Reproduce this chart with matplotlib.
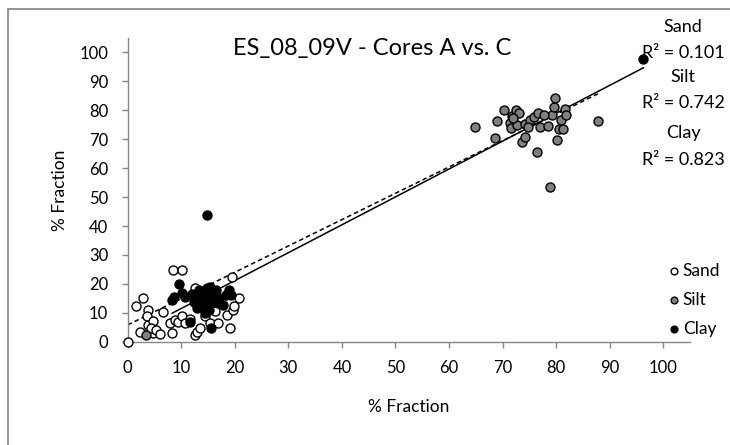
import matplotlib.pyplot as plt
from matplotlib.patches import Rectangle

plt.rcParams['font.family'] = ['Lato', 'DejaVu Sans']

# values
sand_x = [0, 1.5, 2.9, 3.8, 3.6, 3.8, 2.3, 4.8, 4.8, 4.3, 5.2, 6.0, 6.6, 7.9, 8.2,
          8.4, 10.1, 8.8, 9.4, 10.1, 10.7, 11.6, 12.6, 12.6, 13.0, 13.5, 14.4,
          15.4, 16.3, 16.9, 18.5, 19.1, 19.4, 19.7, 19.9, 20.7]
sand_y = [0, 12.2, 15.1, 11.0, 8.8, 5.8, 3.3, 2.9, 7.2, 4.6, 4.2, 2.6, 10.4, 6.4, 2.9,
          24.9, 24.8, 7.5, 6.9, 9.0, 6.4, 8.0, 18.5, 2.4, 3.2, 4.6, 8.9,
          6.6, 10.5, 6.5, 9.2, 4.9, 22.5, 10.8, 12.2, 15.0]

silt_x = [3.4, 64.9, 68.6, 69.0, 70.3, 71.3, 71.6, 71.7, 72.6, 73.1, 73.6, 74.2,
          72.7, 74.2, 75.1, 75.9, 76.7, 77.0, 76.4, 78.4, 78.8, 79.3, 79.6, 79.8,
          80.2, 80.6, 81.0, 81.3, 81.6, 81.9, 87.9, 77.8, 72.0, 74.8]
silt_y = [2.3, 74.3, 70.3, 76.3, 80.1, 75.7, 73.8, 78.0, 80.1, 78.9, 69.2, 70.7,
          74.9, 75.4, 76.8, 77.7, 78.9, 74.3, 65.6, 74.6, 53.4, 78.4, 81.1, 84.4,
          69.9, 73.7, 76.6, 73.7, 80.4, 78.4, 76.3, 78.4, 77.5, 74.4]

clay_x = [9.5, 8.6, 8.3, 10.1, 10.7, 11.6, 12.3, 13.3, 13.5, 14.2, 14.8, 15.0, 15.3,
          15.6, 14.4, 15.6, 16.2, 16.5, 17.1, 17.8, 18.4, 19.0, 19.3, 14.75, 96.3,
          12.0, 14.0, 16.8, 13.0, 15.2]
clay_y = [19.8, 15.6, 14.4, 16.9, 15.6, 6.9, 13.8, 17.9, 15.6, 12.7, 18.5, 16.1, 19.0,
          13.8, 9.8, 4.6, 15.6, 17.9, 15.0, 12.7, 16.1, 17.9, 16.1, 43.8, 97.8,
          16.5, 14.5, 13.5, 11.5, 11.0]

# trendline end points
silt_fit_x = [0, 87.9]
silt_fit_y = [5.8, 85.8]
clay_fit_x = [8.3, 96.3]
clay_fit_y = [9.85, 94.7]

r2_labels = ["Sand", "R² = 0.101", "Silt", "R² = 0.742", "Clay", "R² = 0.823"]

fig = plt.figure(figsize=(7.3, 4.45), dpi=100)
ax = fig.add_axes([127.7 / 730, 1 - 341.7 / 445, (690 - 127.7) / 730, (341.7 - 38) / 445])

mk = dict(s=42, edgecolors='black', linewidths=1.0, zorder=3, clip_on=False)
ax.scatter(sand_x, sand_y, facecolors='white', label='Sand', **mk)
ax.scatter(silt_x, silt_y, facecolors='#808080', label='Silt', **mk)
ax.scatter(clay_x, clay_y, facecolors='black', label='Clay', **mk)

ax.plot(silt_fit_x, silt_fit_y, color='black', lw=1.1, ls=(0, (3, 2)), zorder=2)
ax.plot(clay_fit_x, clay_fit_y, color='black', lw=1.1, zorder=2)

ax.set_xlim(0, 105)
ax.set_ylim(0, 105)
ax.set_xticks(range(0, 101, 10))
ax.set_yticks(range(0, 101, 10))
for s in ['top', 'right']:
    ax.spines[s].set_visible(False)
for s in ['bottom', 'left']:
    ax.spines[s].set_color('#868686')
    ax.spines[s].set_linewidth(1.0)
ax.tick_params(axis='both', colors='#868686', labelcolor='black', length=4,
               width=1.0, labelsize=12)
ax.tick_params(axis='x', pad=9)
ax.tick_params(axis='y', pad=10)
ax.set_xlabel('% Fraction', fontsize=12.5, labelpad=17)
ax.set_ylabel('% Fraction', fontsize=12.5, labelpad=8)

fig.text(372 / 730, 1 - 48 / 445, 'ES_08_09V - Cores A vs. C', fontsize=17,
         ha='center', va='center')

r2_y = [27, 53, 77, 103, 133, 160]
for t, yy in zip(r2_labels, r2_y):
    fig.text(683 / 730, 1 - yy / 445, t, fontsize=13, ha='center', va='center')

ax.legend(loc='center left', bbox_to_anchor=(667 / 730, 1 - 300 / 445),
          bbox_transform=fig.transFigure, frameon=False, fontsize=12.5,
          handletextpad=0.1, handlelength=0.8, labelspacing=0.75,
          borderpad=0, borderaxespad=0, markerscale=0.75)

fig.patches.append(Rectangle((8 / 730, -0.1), 1.1, 1.1 - 9 / 445, fill=False,
                             edgecolor='#8c8c8c', lw=1.3, transform=fig.transFigure))

plt.savefig('out.png', dpi=100)
